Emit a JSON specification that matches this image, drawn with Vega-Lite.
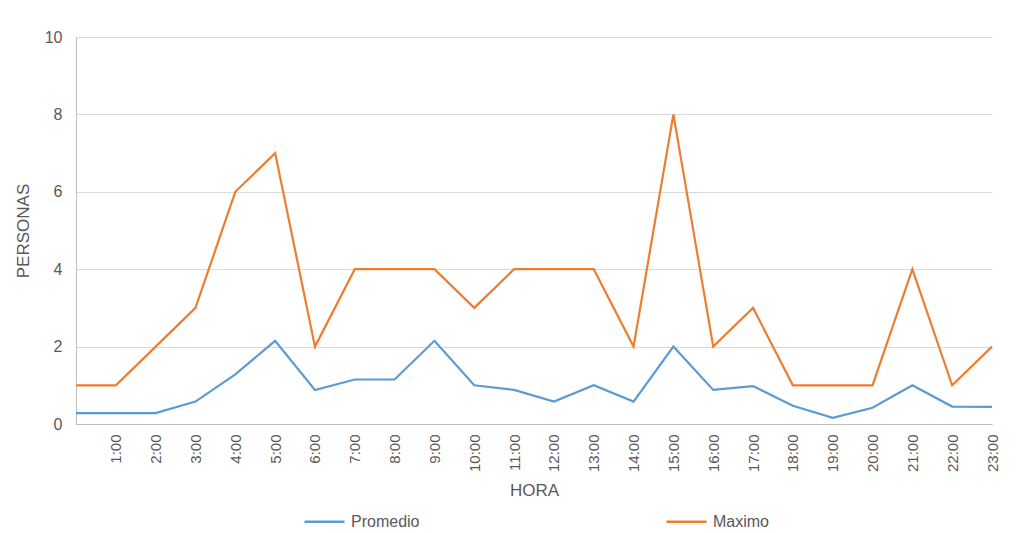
{
  "$schema": "https://vega.github.io/schema/vega-lite/v6.json",
  "width": 916,
  "height": 387,
  "autosize": {"type": "none"},
  "padding": {"left": 76, "top": 37, "right": 32, "bottom": 109},
  "background": "white",
  "config": {
    "font": "Liberation Sans",
    "view": {"stroke": null},
    "axis": {"labelColor": "#595959", "titleColor": "#595959", "titleFontWeight": "normal", "domainColor": "#bfbfbf", "gridColor": "#d9d9d9", "ticks": false}
  },
  "data": {
    "values": [
      {"hora": "0:00", "Promedio": 0.28, "Maximo": 1},
      {"hora": "1:00", "Promedio": 0.28, "Maximo": 1},
      {"hora": "2:00", "Promedio": 0.28, "Maximo": 2},
      {"hora": "3:00", "Promedio": 0.58, "Maximo": 3},
      {"hora": "4:00", "Promedio": 1.28, "Maximo": 6},
      {"hora": "5:00", "Promedio": 2.15, "Maximo": 7},
      {"hora": "6:00", "Promedio": 0.88, "Maximo": 2},
      {"hora": "7:00", "Promedio": 1.15, "Maximo": 4},
      {"hora": "8:00", "Promedio": 1.15, "Maximo": 4},
      {"hora": "9:00", "Promedio": 2.15, "Maximo": 4},
      {"hora": "10:00", "Promedio": 1.0, "Maximo": 3},
      {"hora": "11:00", "Promedio": 0.88, "Maximo": 4},
      {"hora": "12:00", "Promedio": 0.58, "Maximo": 4},
      {"hora": "13:00", "Promedio": 1.0, "Maximo": 4},
      {"hora": "14:00", "Promedio": 0.58, "Maximo": 2},
      {"hora": "15:00", "Promedio": 2.0, "Maximo": 8},
      {"hora": "16:00", "Promedio": 0.88, "Maximo": 2},
      {"hora": "17:00", "Promedio": 0.98, "Maximo": 3},
      {"hora": "18:00", "Promedio": 0.47, "Maximo": 1},
      {"hora": "19:00", "Promedio": 0.16, "Maximo": 1},
      {"hora": "20:00", "Promedio": 0.42, "Maximo": 1},
      {"hora": "21:00", "Promedio": 1.0, "Maximo": 4},
      {"hora": "22:00", "Promedio": 0.45, "Maximo": 1},
      {"hora": "23:00", "Promedio": 0.44, "Maximo": 2}
    ]
  },
  "transform": [{"fold": ["Promedio", "Maximo"], "as": ["serie", "valor"]}],
  "mark": {"type": "line", "strokeWidth": 2.2, "strokeJoin": "miter"},
  "encoding": {
    "x": {
      "field": "hora",
      "type": "ordinal",
      "sort": null,
      "scale": {"type": "point", "padding": 0},
      "axis": {
        "title": "HORA",
        "titleFontSize": 17,
        "titleY": 58,
        "labelAngle": -90,
        "labelFontSize": 15,
        "labelPadding": 10,
        "grid": false,
        "labelExpr": "datum.value == '0:00' ? '' : datum.value"
      }
    },
    "y": {
      "field": "valor",
      "type": "quantitative",
      "scale": {"domain": [0, 10]},
      "axis": {
        "title": "PERSONAS",
        "titleFontSize": 17,
        "titleX": -44,
        "labelFontSize": 16,
        "labelPadding": 14,
        "values": [0, 2, 4, 6, 8, 10],
        "grid": true
      }
    },
    "color": {
      "field": "serie",
      "type": "nominal",
      "sort": ["Promedio", "Maximo"],
      "scale": {"domain": ["Promedio", "Maximo"], "range": ["#5b9bd5", "#ed7d31"]},
      "legend": {
        "title": null,
        "orient": "none",
        "direction": "horizontal",
        "legendX": 227,
        "legendY": 463,
        "symbolType": "stroke",
        "symbolSize": 1600,
        "symbolStrokeWidth": 2.5,
        "labelFontSize": 16,
        "labelColor": "#595959",
        "labelOffset": 5,
        "columnPadding": 241
      }
    }
  }
}
